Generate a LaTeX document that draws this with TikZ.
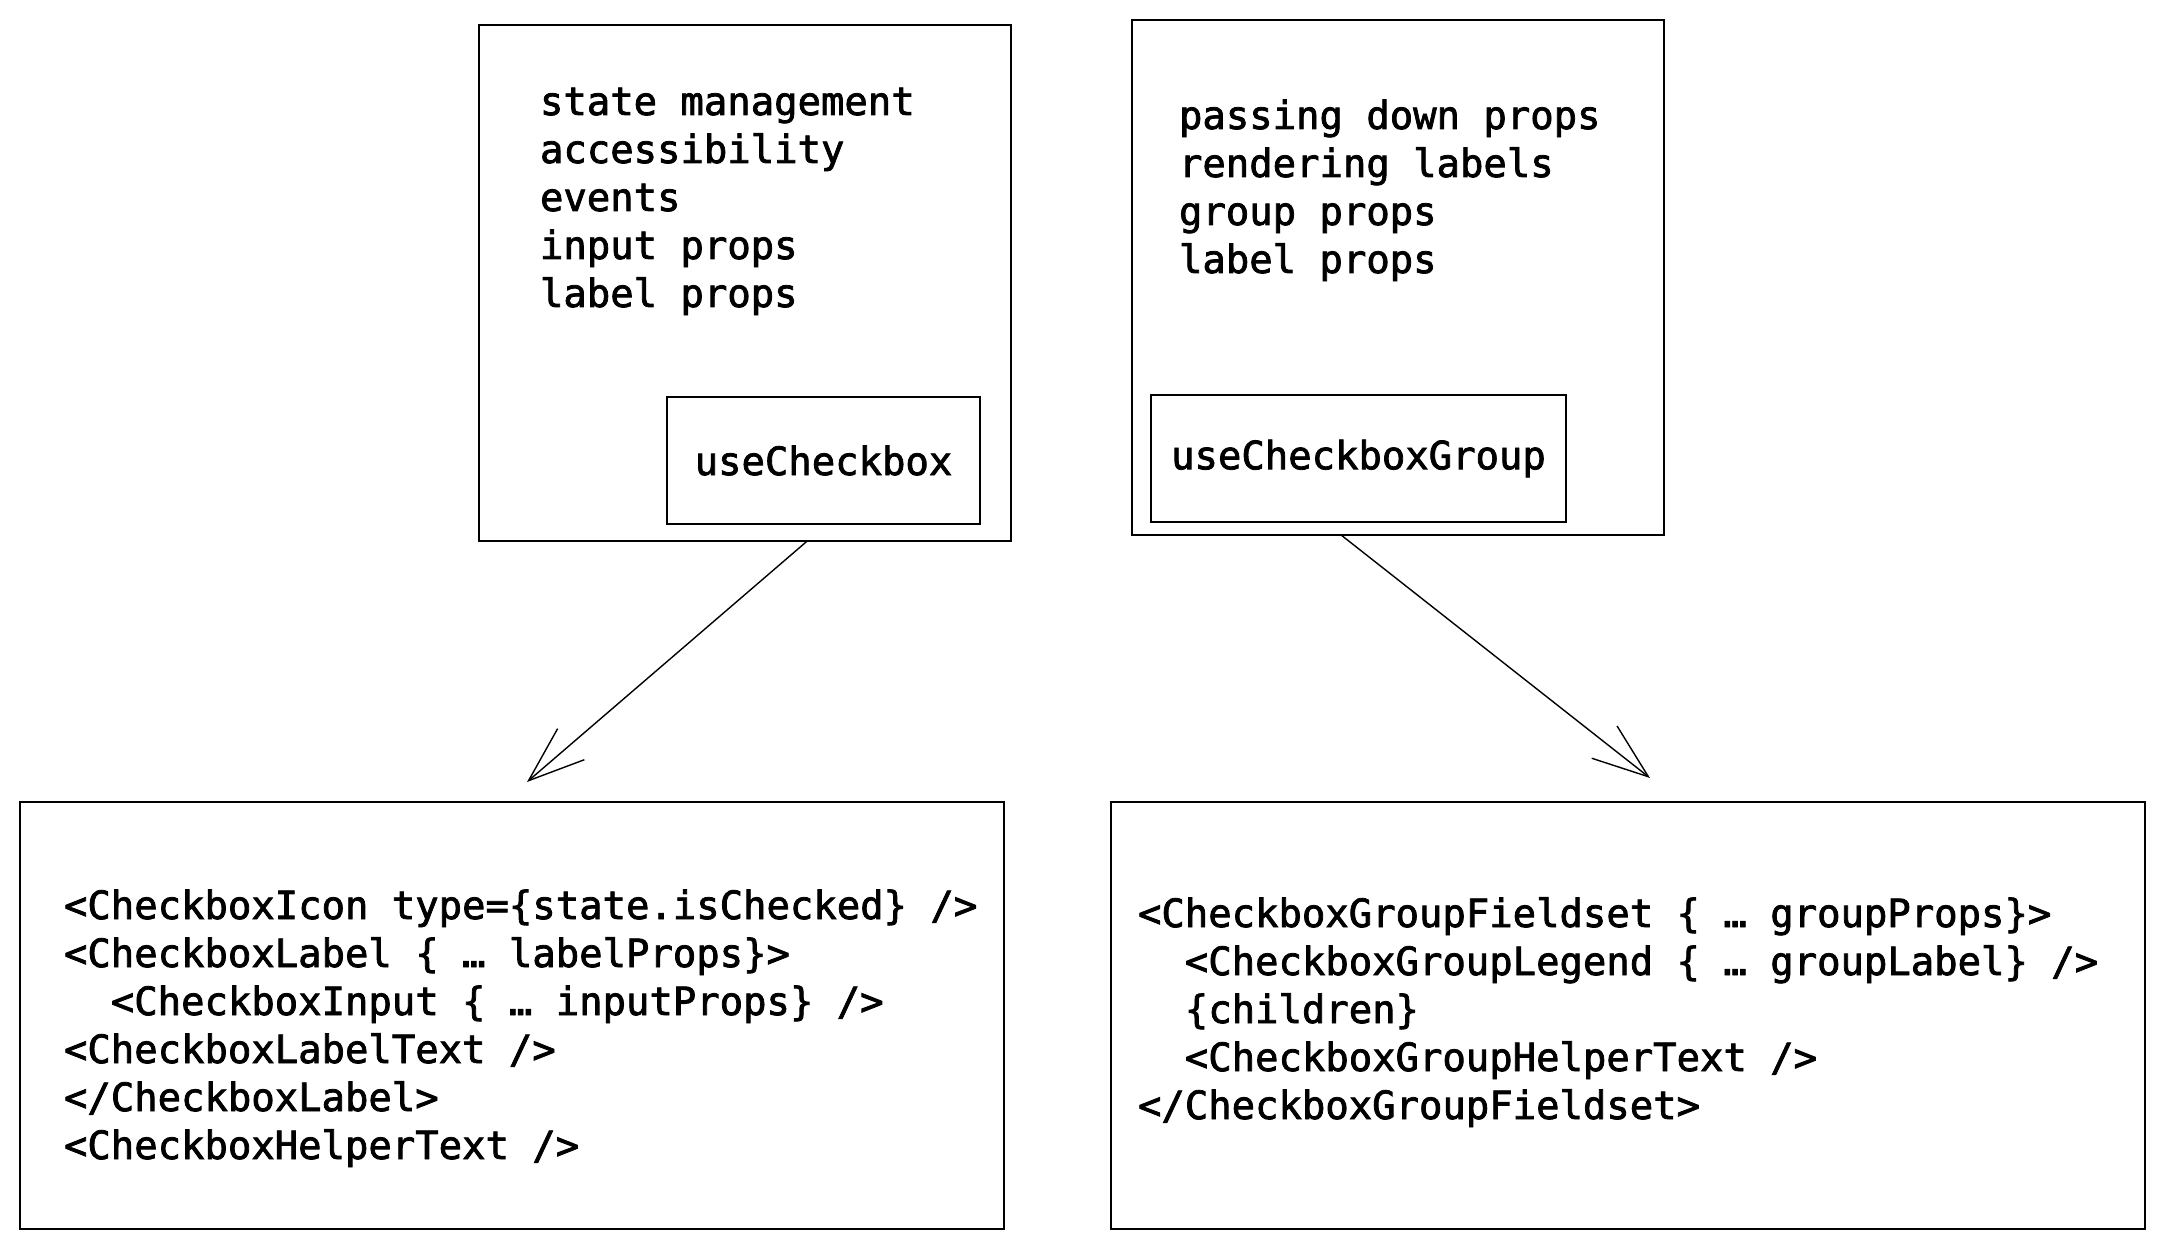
\documentclass[tikz,border=0pt]{standalone}
\usepackage{fontspec}
\newfontfamily\codefnt{DejaVu Sans Mono}[FakeBold=2]
\usetikzlibrary{arrows.meta,calc}
\begin{document}
\begin{tikzpicture}[x=1pt,y=-1pt,
  box/.style={draw=black,line width=2pt,rectangle,inner sep=0pt,outer sep=0pt},
  codefont/.style={font=\codefnt\fontsize{38.9pt}{48pt}\selectfont},
  code/.style={codefont,align=left,inner sep=0pt,outer sep=0pt,anchor=base west},
  conn/.style={line width=1.4pt,-{Straight Barb[length=56pt,width=41pt]}}]
\useasboundingbox (0,0) rectangle (2164,1249);
% top boxes
\node[box,minimum width=532pt,minimum height=516pt] (A) at (745,283) {};
\node[box,codefont,minimum width=313pt,minimum height=127pt] (hookA) at (823.5,460.5) {useCheckbox};
\node[box,minimum width=532pt,minimum height=515pt] (B) at (1398,277.5) {};
\node[box,codefont,minimum width=415pt,minimum height=127pt] (hookB) at (1358.5,458.5) {useCheckboxGroup};
% bottom boxes
\node[box,minimum width=984pt,minimum height=427pt] (C) at (512,1015.5) {};
\node[box,minimum width=1034pt,minimum height=427pt] (D) at (1628,1015.5) {};
% texts (anchored at the baseline of their last line)
\node[code] (tA) at (540,307) {state management\\accessibility\\events\\input props\\label props};
\node[code] (tB) at (1179,273) {passing down props\\rendering labels\\group props\\label props};
\node[code] (tC) at (64,1159) {<CheckboxIcon type=\{state.isChecked\} />\\<CheckboxLabel \{ … labelProps\}>\\\phantom{xx}<CheckboxInput \{ … inputProps\} />\\<CheckboxLabelText />\\</CheckboxLabel>\\<CheckboxHelperText />};
\node[code] (tD) at (1138,1119) {<CheckboxGroupFieldset \{ … groupProps\}>\\\phantom{xx}<CheckboxGroupLegend \{ … groupLabel\} />\\\phantom{xx}\{children\}\\\phantom{xx}<CheckboxGroupHelperText />\\</CheckboxGroupFieldset>};
% connectors
\coordinate (tipC) at (527,782);
\coordinate (tipD) at (1650,778);
\draw[conn] ($(A.south west)!0.617!(A.south east)$) -- (tipC);
\draw[conn] ($(B.south west)!0.393!(B.south east)$) -- (tipD);
\end{tikzpicture}
\end{document}
